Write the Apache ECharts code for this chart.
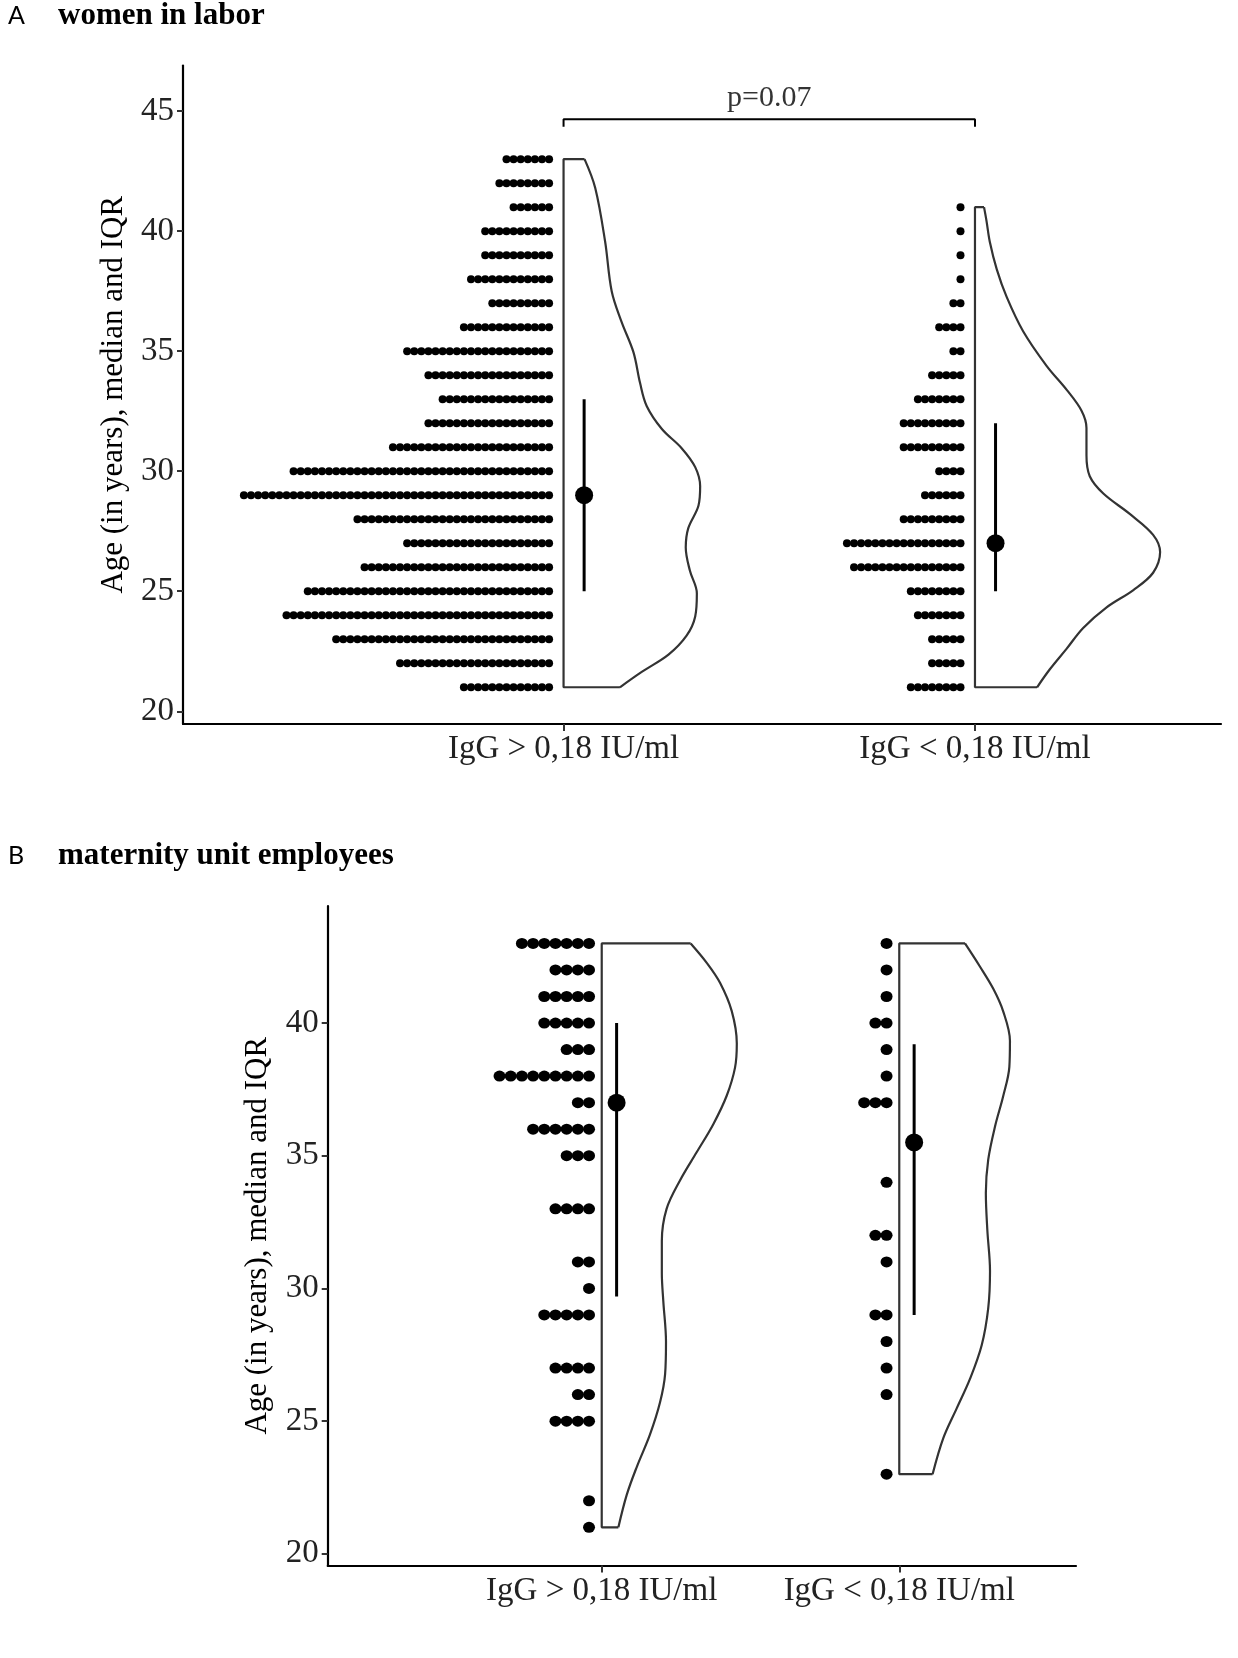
<!DOCTYPE html>
<html>
<head>
<meta charset="utf-8">
<title>IgG by age</title>
<script src="https://cdn.jsdelivr.net/npm/echarts@6.0.0/dist/echarts.min.js"></script>
<style>
  html, body { margin: 0; padding: 0; background: #fff; }
  #chart { width: 1238px; height: 1658px; }
</style>
</head>
<body>
<div id="chart"></div>
<script>
(function () {
  'use strict';

  // ── Data ──

  var GROUPS = ['IgG > 0,18 IU/ml', 'IgG < 0,18 IU/ml'];
  var Y_TICKS_A = [20, 25, 30, 35, 40, 45];
  var Y_TICKS_B = [20, 25, 30, 35, 40];

  // dot counts per age, starting at FIRST_AGE
  var FIRST_AGE_A = 21;
  var COUNTS_A1 = [13, 22, 31, 38, 35, 27, 21, 28, 44, 37, 23, 18, 16, 18, 21, 13, 9, 12, 10, 10, 6, 8, 7];
  var COUNTS_A2 = [8, 5, 5, 7, 8, 16, 17, 9, 6, 4, 9, 9, 7, 5, 2, 4, 2, 1, 1, 1, 1];
  var FIRST_AGE_B = 21;
  var COUNTS_B1 = [1, 1, 0, 0, 4, 2, 4, 0, 5, 1, 2, 0, 4, 0, 3, 6, 2, 9, 3, 5, 5, 4, 7];
  var COUNTS_B2 = [0, 0, 1, 0, 0, 1, 1, 1, 2, 0, 1, 2, 0, 1, 0, 0, 3, 1, 1, 2, 1, 1, 1];

  // median and IQR
  var MEDIAN_A = [29, 27];
  var Q1_A = [25, 25];
  var Q3_A = [33, 32];
  var MEDIAN_B = [37, 35.5];
  var Q1_B = [29.7, 29];
  var Q3_B = [40, 39.2];

  // half-violin outlines: age and half width (x-axis units)
  var VIO_A1_AGE = [43, 41.8, 39.57, 37.5, 36.22, 34.95, 33.67, 32.72, 31.76, 30.96, 30.17, 29.37, 28.57, 27.62, 26.82, 25.86, 24.91, 23.95, 23.15, 22.36, 21.64, 21];
  var VIO_A1_W = [0.051, 0.077, 0.101, 0.117, 0.141, 0.170, 0.186, 0.202, 0.239, 0.287, 0.320, 0.332, 0.328, 0.303, 0.297, 0.307, 0.324, 0.320, 0.299, 0.255, 0.190, 0.137];
  var VIO_A2_AGE = [41, 40.43, 39.56, 38.41, 37.26, 35.83, 34.39, 33.39, 32.52, 31.8, 30.66, 29.79, 29.07, 28.21, 27.35, 26.63, 25.77, 25.05, 24.33, 23.47, 22.61, 21.75, 21];
  var VIO_A2_W = [0.022, 0.028, 0.036, 0.053, 0.077, 0.117, 0.174, 0.223, 0.259, 0.271, 0.271, 0.279, 0.312, 0.377, 0.433, 0.450, 0.433, 0.385, 0.320, 0.263, 0.223, 0.182, 0.151];
  var VIO_B1_AGE = [43, 42.27, 41.51, 40.45, 39.23, 38.32, 37.26, 36.19, 35.13, 34.07, 33, 31.79, 30.57, 29.51, 27.99, 26.77, 25.71, 24.49, 23.28, 22.22, 21];
  var VIO_B1_W = [0.299, 0.353, 0.398, 0.437, 0.454, 0.448, 0.420, 0.375, 0.319, 0.263, 0.218, 0.202, 0.202, 0.207, 0.216, 0.213, 0.196, 0.162, 0.118, 0.084, 0.056];
  var VIO_B2_AGE = [43, 42.13, 41.29, 40.45, 39.33, 38.35, 37.23, 36.11, 34.85, 33.6, 32.2, 30.66, 29.26, 27.86, 26.6, 25.48, 24.36, 23];
  var VIO_B2_W = [0.221, 0.271, 0.316, 0.349, 0.372, 0.370, 0.349, 0.322, 0.299, 0.291, 0.296, 0.305, 0.299, 0.277, 0.238, 0.193, 0.148, 0.112];

  var P_LABEL = 'p=0.07';

  // ── Style ──

  var SERIF = '"Liberation Serif", "Times New Roman", serif';
  var INK = '#000';
  var OUTLINE = '#333';

  // ── Builders ──

  function dotData(counts, firstAge, g, off, step) {
    var out = [];
    counts.forEach(function (n, i) {
      for (var k = 0; k < n; k++) out.push([g - off - k * step, firstAge + i]);
    });
    return out;
  }

  function dots(idx, data, size) {
    return {
      type: 'scatter', xAxisIndex: idx, yAxisIndex: idx, data: data,
      symbol: 'circle', symbolSize: size, silent: true,
      itemStyle: { color: INK, opacity: 1 }
    };
  }

  function violin(idx, g, ages, widths) {
    var curve = ages.map(function (a, i) { return [g + widths[i], a]; });
    var n = ages.length - 1;
    var frame = [[g + widths[0], ages[0]], [g, ages[0]], [g, ages[n]], [g + widths[n], ages[n]]];
    var base = {
      type: 'line', xAxisIndex: idx, yAxisIndex: idx, symbol: 'none', silent: true,
      lineStyle: { color: OUTLINE, width: 2.2 }, z: 1
    };
    return [
      Object.assign({}, base, { data: curve, smooth: 0.35 }),
      Object.assign({}, base, { data: frame })
    ];
  }

  function summary(idx, g, med, lo, hi) {
    var x = g + 0.05;
    return [
      {
        type: 'line', xAxisIndex: idx, yAxisIndex: idx, symbol: 'none', silent: true,
        data: [[x, lo], [x, hi]], lineStyle: { color: INK, width: 3 }, z: 3
      },
      {
        type: 'scatter', xAxisIndex: idx, yAxisIndex: idx, silent: true,
        data: [[x, med]], symbolSize: 18, itemStyle: { color: INK, opacity: 1 }, z: 4
      }
    ];
  }

  function xAxis(idx, min, max) {
    return {
      type: 'value', gridIndex: idx, min: min, max: max,
      splitLine: { show: false },
      axisLine: { show: true, onZero: false, lineStyle: { color: INK, width: 2.2 } },
      axisTick: { show: true, length: 7, customValues: [1, 2], lineStyle: { color: '#333', width: 2 } },
      axisLabel: {
        customValues: [1, 2], margin: 9, color: '#222', fontFamily: SERIF, fontSize: 33,
        formatter: function (v) { return GROUPS[Math.round(v) - 1]; }
      }
    };
  }

  function yAxis(idx, min, max, ticks) {
    return {
      type: 'value', gridIndex: idx, min: min, max: max,
      name: 'Age (in years), median and IQR', nameLocation: 'middle', nameGap: 54,
      nameTextStyle: { color: INK, fontFamily: SERIF, fontSize: 31 },
      splitLine: { show: false },
      axisLine: { show: true, onZero: false, lineStyle: { color: INK, width: 2.2 } },
      axisTick: { show: true, length: 6, customValues: ticks, lineStyle: { color: '#333', width: 2 } },
      axisLabel: { customValues: ticks, margin: 9, color: '#222', fontFamily: SERIF, fontSize: 33 }
    };
  }

  // ── Chart ──

  var chart = echarts.init(document.getElementById('chart'), null, { renderer: 'canvas' });

  var DOT_A = { off: 0.0352, step: 0.01725, size: 8 };
  var DOT_B = { off: 0.0427, step: 0.0376, size: [12, 11] };

  var series = [
    dots(0, dotData(COUNTS_A1, FIRST_AGE_A, 1, DOT_A.off, DOT_A.step), DOT_A.size),
    dots(0, dotData(COUNTS_A2, FIRST_AGE_A, 2, DOT_A.off, DOT_A.step), DOT_A.size),
    dots(1, dotData(COUNTS_B1, FIRST_AGE_B, 1, DOT_B.off, DOT_B.step), DOT_B.size),
    dots(1, dotData(COUNTS_B2, FIRST_AGE_B, 2, DOT_B.off, DOT_B.step), DOT_B.size)
  ]
    .concat(violin(0, 1, VIO_A1_AGE, VIO_A1_W))
    .concat(violin(0, 2, VIO_A2_AGE, VIO_A2_W))
    .concat(violin(1, 1, VIO_B1_AGE, VIO_B1_W))
    .concat(violin(1, 2, VIO_B2_AGE, VIO_B2_W))
    .concat(summary(0, 1, MEDIAN_A[0], Q1_A[0], Q3_A[0]))
    .concat(summary(0, 2, MEDIAN_A[1], Q1_A[1], Q3_A[1]))
    .concat(summary(1, 1, MEDIAN_B[0], Q1_B[0], Q3_B[0]))
    .concat(summary(1, 2, MEDIAN_B[1], Q1_B[1], Q3_B[1]));

  // significance bracket
  series.push({
    type: 'line', xAxisIndex: 0, yAxisIndex: 0, symbol: 'none', silent: true,
    data: [[1, 44.35], [1, 44.66], [2, 44.66], [2, 44.35]],
    lineStyle: { color: INK, width: 2 }
  });
  series.push({
    type: 'scatter', xAxisIndex: 0, yAxisIndex: 0, silent: true,
    data: [[1.5, 44.66]], symbolSize: 0,
    label: {
      show: true, position: 'top', distance: 6, formatter: P_LABEL,
      color: INK, fontFamily: SERIF, fontSize: 30
    }
  });

  chart.setOption({
    animation: false,
    backgroundColor: '#fff',
    grid: [
      { left: 183, right: 17, top: 65.5, height: 658.5 },
      { left: 327.7, right: 162, top: 906, height: 659.5 }
    ],
    xAxis: [xAxis(0, 0.075, 2.598), xAxis(1, 0.079, 2.594)],
    yAxis: [yAxis(0, 19.47, 46.9, Y_TICKS_A), yAxis(1, 19.56, 44.41, Y_TICKS_B)],
    graphic: [
      { type: 'text', x: 8, y: 16, style: { text: 'A', font: '25px Lato, "Open Sans", sans-serif', fill: INK, verticalAlign: 'middle' } },
      { type: 'text', x: 58, y: 16, style: { text: 'women in labor', font: 'bold 31px ' + SERIF, fill: INK, verticalAlign: 'middle' } },
      { type: 'text', x: 8, y: 856, style: { text: 'B', font: '25px Lato, "Open Sans", sans-serif', fill: INK, verticalAlign: 'middle' } },
      { type: 'text', x: 58, y: 856, style: { text: 'maternity unit employees', font: 'bold 31px ' + SERIF, fill: INK, verticalAlign: 'middle' } }
    ],
    series: series
  });
})();
</script>
</body>
</html>
